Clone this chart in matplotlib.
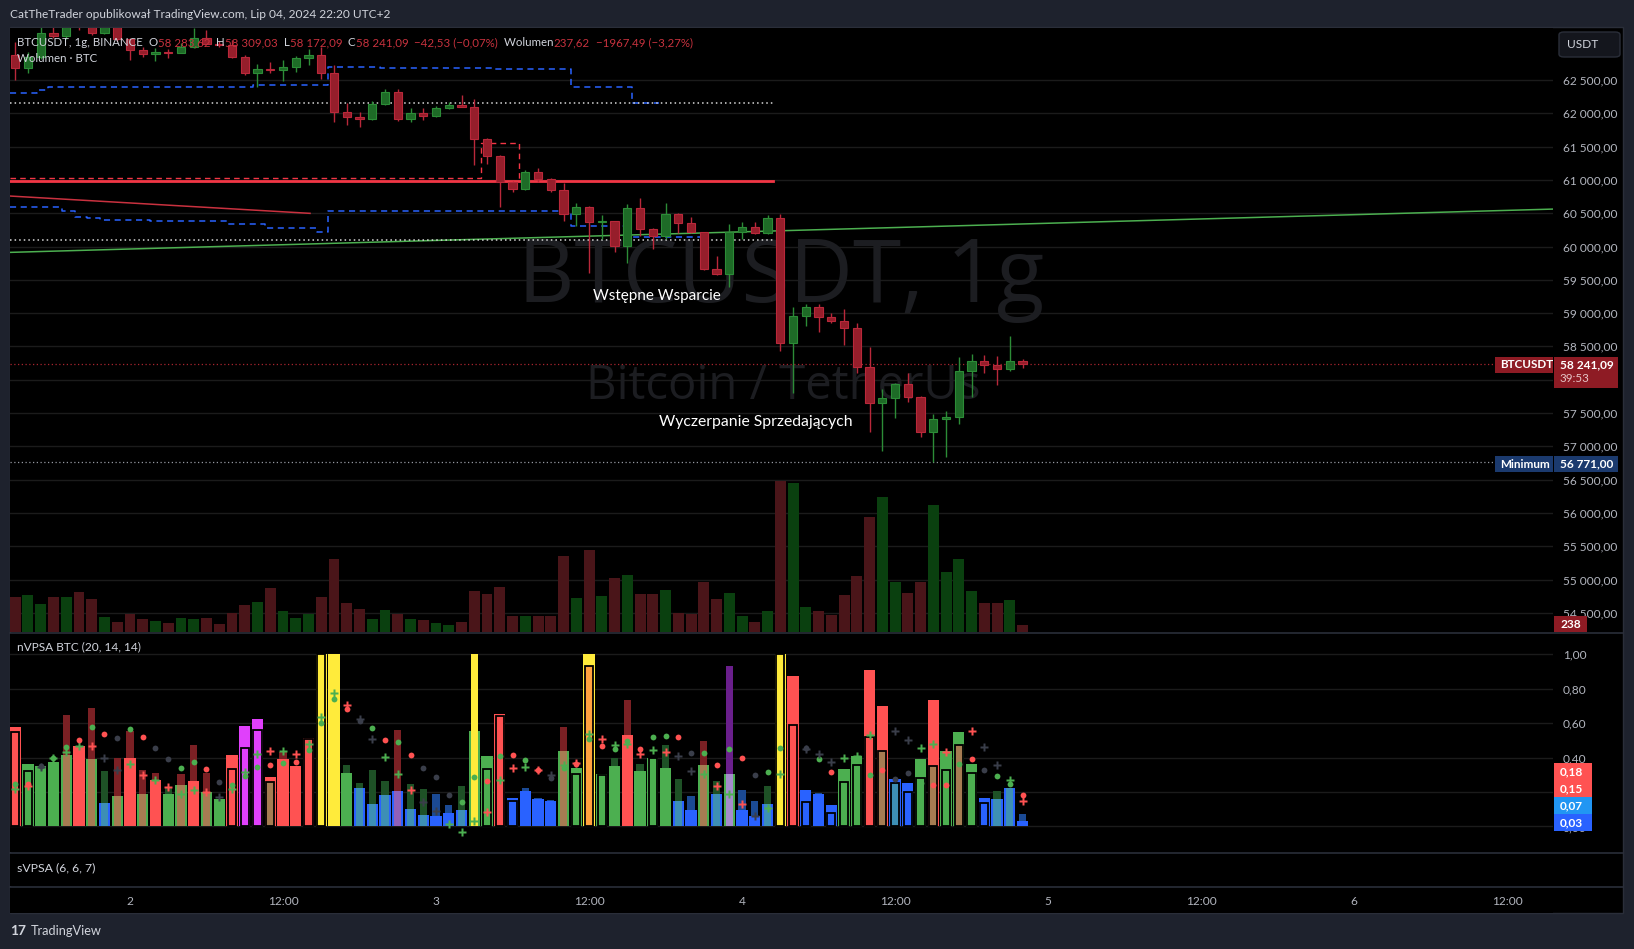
import numpy as np
import matplotlib
matplotlib.use("Agg")
import matplotlib.pyplot as plt
from matplotlib.patches import Rectangle, FancyBboxPatch
from matplotlib.lines import Line2D

W, H = 1634, 949
FONT = ['Lato', 'DejaVu Sans']
plt.rcParams['font.family'] = FONT

# ------------------------------------------------------------------ data
# candle start, hours relative to 2 Jul 2024 00:00 (UTC+2)
hours = list(range(-9, 71))
opens = [62875, 62676, 62850, 63200, 63160, 63350, 63325, 63210, 63375, 63110,
         62950, 62886, 62921, 62910, 62991, 63126, 63041, 63021, 62850, 62610,
         62660, 62650, 62700, 62826, 62875, 62610, 62024, 61940, 61910, 62135,
         62320, 61919, 62000, 61955, 62080, 62125, 62090, 61609, 61358, 60973,
         60863, 61118, 61013, 60848, 60487, 60592, 60367, 60390, 60007, 60577,
         60262, 60157, 60487, 60352, 60217, 59661, 59586, 60217, 60292, 60202,
         60427, 58550, 58955, 59090, 58940, 58880, 58775, 58190, 57649, 57724,
         57934, 57739, 57213, 57408, 57438, 58129, 58280, 58220, 58160, 58283.62]
highs = [63075, 62925, 63350, 63400, 63420, 63450, 63380, 63430, 63420, 63130,
         63000, 62976, 62961, 63051, 63276, 63251, 63080, 63101, 62875, 62740,
         62775, 62800, 62860, 62961, 62991, 62725, 62150, 62024, 62180, 62360,
         62360, 62075, 62075, 62110, 62175, 62275, 62215, 61624, 61370, 60990,
         61150, 61178, 61030, 60953, 60653, 60607, 60472, 60390, 60638, 60728,
         60280, 60653, 60502, 60442, 60217, 59857, 60337, 60367, 60367, 60472,
         60487, 59090, 59135, 59135, 59000, 59060, 58850, 58490, 57859, 57950,
         58099, 57760, 57483, 57528, 58340, 58385, 58370, 58355, 58655, 58309.03]
lows = [62500, 62610, 62820, 63126, 63110, 63250, 63180, 63190, 63080, 62800,
        62840, 62790, 62826, 62901, 62985, 63035, 62990, 62825, 62575, 62400,
        62610, 62490, 62625, 62725, 62510, 61874, 61824, 61799, 61900, 62120,
        61884, 61874, 61900, 61940, 62060, 62090, 61223, 61238, 60597, 60820,
        60850, 60968, 60818, 60382, 60307, 59601, 60112, 59917, 59751, 60157,
        59962, 60112, 60202, 60200, 59640, 59570, 59391, 60112, 60190, 60190,
        58430, 57799, 58805, 58715, 58850, 58520, 58100, 57213, 56928, 57423,
        57664, 57138, 56771, 56838, 57333, 57739, 58099, 57919, 58130, 58172.09]
closes = [62676, 62850, 63200, 63160, 63350, 63325, 63210, 63375, 63110, 62950,
          62886, 62921, 62910, 62991, 63126, 63041, 63021, 62850, 62610, 62660,
          62650, 62700, 62826, 62875, 62610, 62024, 61940, 61910, 62135, 62320,
          61919, 62000, 61955, 62080, 62125, 62090, 61609, 61358, 60973, 60863,
          61118, 61013, 60848, 60487, 60592, 60367, 60390, 60007, 60577, 60262,
          60157, 60487, 60352, 60217, 59661, 59586, 60217, 60292, 60202, 60427,
          58550, 58955, 59090, 58940, 58880, 58775, 58190, 57649, 57724, 57934,
          57739, 57213, 57408, 57438, 58129, 58280, 58220, 58160, 58283.62, 58241.09]
volumes = [1145, 1210, 918, 1145, 1145, 1307, 1080, 497, 335, 594,
           432, 367, 302, 464, 432, 464, 270, 626, 886, 983,
           1436, 691, 464, 594, 1145, 2376, 950, 756, 432, 724,
           594, 432, 400, 302, 238, 335, 1339, 1242, 1469, 529,
           529, 529, 529, 2473, 1112, 2668, 1177, 1760, 1858, 1242,
           1242, 1372, 626, 594, 1631, 1080, 1274, 529, 335, 691,
           4903, 4838, 821, 691, 562, 1210, 1825, 3737, 4385, 1631,
           1274, 1631, 4126, 1955, 2376, 1339, 950, 950, 1048, 237.62]

price_ticks = list(range(54500, 63000, 500))
time_ticks = [0, 12, 24, 36, 48, 60, 72, 84, 96, 108]
time_labels = ['2', '12:00', '3', '12:00', '4', '12:00', '5', '12:00', '6', '12:00']

# overlay lines (hours, price)
upper_band_x = [-9.41, -7.32, -6.41, 9.67, 15.55, 19.61, 28.47, 34.59, 39.37, 41.46]
upper_band_y = [62300, 62345, 62399, 62425, 62700, 62676, 62661, 62402, 62155, 62155]
lower_band_x = [-9.41, -5.36, -4.31, -3.40, -2.35, 1.57, 7.58, 10.59, 14.64, 15.55, 34.56, 39.22, 45.21]
lower_band_y = [60588, 60537, 60447, 60423, 60397, 60382, 60337, 60273, 60212, 60537, 60307, 60137, 60137]
dotted_levels = [62155, 60097]
dotted_end = 50.43
red_level = 60978
red_dash_x = [-9.41, 27.5, 27.5, 30.5, 30.5]
red_dash_y = [61024, 61024, 61549, 61549, 60990]
red_trend_x = [-9.41, 14.12]
red_trend_y = [60758, 60498]
green_trend_x = [-9.41, 111.6]
green_trend_y = [59912, 60562]

notes = [("Wstępne Wsparcie", 41.33, 59256), ("Wyczerpanie Sprzedających", 49.1, 57363)]

# nVPSA indicator
wide_v = [0.578, 0.365, 0.350, 0.373, 0.417, 0.469, 0.394, 0.139, 0.174, 0.400,
          0.186, 0.272, 0.191, 0.243, 0.266, 0.201, 0.157, 0.417, 0.580, 0.626,
          0.286, 0.394, 0.350, 0.512, 1.000, 1.000, 0.313, 0.226, 0.128, 0.180,
          0.203, 0.099, 0.064, 0.060, 0.077, 0.093, 0.551, 0.406, 0.655, 0.168,
          0.203, 0.162, 0.150, 0.440, 0.342, 1.000, 0.307, 0.348, 0.533, 0.319,
          0.400, 0.342, 0.145, 0.093, 0.354, 0.191, 0.302, 0.093, 0.058, 0.133,
          1.000, 0.870, 0.209, 0.186, 0.122, 0.336, 0.411, 0.910, 0.701, 0.278,
          0.250, 0.394, 0.736, 0.440, 0.545, 0.360, 0.168, 0.162, 0.226, 0.030]
wide_c = ("RGGGGRGBGR" "GRGGRGGRMM" "RRRRYYGBBB" "BBBBBBGGRB" "BBBGGYGGRG"
          "GGBBGBGBBB" "YRBBBGGRRB" "BGRGGGBBBB")
nar_v = [0, 0, 0, 0, 0.649, 0, 0.689, 0.319, 0.400, 0.556,
         0.325, 0.311, 0.230, 0.307, 0.470, 0.311, 0, 0, 0, 0,
         0, 0.430, 0, 0, 0, 0, 0.354, 0.253, 0.325, 0.261,
         0.562, 0.244, 0.220, 0.186, 0.122, 0.232, 1.000, 0, 0, 0,
         0.226, 0.166, 0.156, 0.574, 0, 0, 0, 0.400, 0.736, 0.365,
         0, 0.475, 0.273, 0.174, 0.498, 0.261, 0.933, 0.209, 0.145, 0.232,
         0, 0, 0, 0.197, 0, 0, 0, 0, 0, 0,
         0, 0, 0, 0, 0, 0, 0, 0.203, 0.226, 0.070]
nar_c = ("----r-rgrr" "rrgrrr----" "-r----gggg" "rggbbgY---" "bbbr---grg"
         "-ggbrgpbbg" "---b------" "-------ggb")
out_v = [0.549, 0.323, 0, 0, 0, 0, 0, 0, 0, 0,
         0, 0, 0, 0, 0, 0, 0, 0.336, 0.456, 0.557,
         0.259, 0, 0, 0.508, 1.000, 0, 0, 0, 0, 0,
         0, 0, 0, 0, 0, 0, 0, 0.331, 0.640, 0.149,
         0, 0, 0, 0, 0.307, 0.933, 0.300, 0, 0, 0,
         0.395, 0, 0, 0, 0, 0, 0, 0, 0, 0,
         1.000, 0.589, 0.143, 0, 0.079, 0.259, 0.357, 0.520, 0.439, 0.253,
         0.201, 0.284, 0.348, 0.329, 0.473, 0.313, 0.137, 0, 0, 0]
out_c = ("RG--------" "-------RMM" "N--RY-----" "-------GRB" "----GOG---"
         "G---------" "YRB-BGGRNT" "BGNGNGB---")
dot_v = [0.249, 0.249, 0.352, 0.398, 0.462, 0.504, 0.578, 0.537, 0.514, 0.566,
         0.520, 0.458, 0.394, 0.340, 0.375, 0.334, 0.259, 0.240, 0.292, 0.346,
         0.358, 0.369, 0.373, 0.446, 0.601, 0.740, 0.682, 0.611, 0.572, 0.504,
         0.491, 0.412, 0.340, 0.288, 0.184, 0.143, 0.288, 0.265, 0.406, 0.415,
         0.388, 0.330, 0.282, 0.342, 0.363, 0.508, 0.467, 0.450, 0.498, 0.452,
         0.520, 0.527, 0.520, 0.427, 0.427, 0.358, 0.450, 0.398, 0.300, 0.317,
         0.456, 0, 0.456, 0.394, 0.317, 0, 0, 0.300, 0.330, 0.277,
         0.311, 0.253, 0.238, 0.238, 0.360, 0.394, 0.329, 0.290, 0.249, 0.180]
dot_c = ("GRKGGRGRKG" "RKKGGRKGGG" "RGRGGGRKGR" "GRKKKGGRGR" "GRKGRGRGGR"
         "GGRKGRGRKG" "G-KGR--GRK" "KGRRGRKGGR")
plus_v = [0.220, 0.234, 0.344, 0.398, 0.431, 0.466, 0.466, 0.398, 0.327, 0.361,
          0.301, 0.269, 0.228, 0.191, 0.211, 0.199, 0.171, 0.215, 0.315, 0.421,
          0.435, 0.435, 0.423, 0.481, 0.634, 0.775, 0.703, 0.621, 0.508, 0.402,
          0.303, 0.211, 0.141, 0.087, 0.017, -0.033, 0.031, 0.085, 0.269, 0.338,
          0.344, 0.325, 0.297, 0.354, 0.369, 0.537, 0.506, 0.473, 0.478, 0.418,
          0.441, 0.431, 0.408, 0.321, 0.305, 0.234, 0.191, 0.130, 0.060, 0.106,
          0.303, 0, 0.450, 0.418, 0.373, 0.398, 0.411, 0.528, 0, 0.553,
          0.501, 0.454, 0.481, 0.431, 0, 0.553, 0.460, 0.359, 0.269, 0.150]
plus_c = ("GRKGGGRKKG" "RGRGGRKGGG" "RGRGGGRKKG" "GRKKGGGRGR" "GRKGRGRGGR"
          "GRKKGRGRKG" "G-KKKGGG-K" "KGGR-RKKGR")
nv_ticks = [0.0, 0.2, 0.4, 0.6, 0.8, 1.0]
nv_last = [("0,18", '#ff5252'), ("0,15", '#ff5252'), ("0,07", '#2196f3'), ("0,03", '#2962ff')]

# ------------------------------------------------------------------ style
WHITE = '#d1d4dc'
AX_TXT = '#b2b5be'
GRID = '#1b1b1b'
SEP = '#2a2e39'
LEG_RED = '#c8323e'
C_UP_BODY, C_UP_EDGE = '#1e6b27', '#2c8c37'
C_DN_BODY, C_DN_EDGE = '#961e2b', '#b9283a'
V_UP, V_DN = '#0a400f', '#4a1519'
COL = {'R': '#ff5252', 'G': '#4caf50', 'B': '#2962ff', 'Y': '#ffeb3b', 'M': '#e040fb',
       'O': '#ffa23e', 'N': '#a67c52', 'T': '#3d8fb5',
       'r': '#7b2024', 'g': '#1e5126', 'b': '#1b4a94', 'p': '#6a1f8c'}
MIX = {('r', 'G'): '#a67c52', ('r', 'R'): '#ff5252', ('r', 'B'): '#9060b8',
       ('g', 'B'): '#3d8fb5', ('g', 'G'): '#4caf50', ('b', 'B'): '#2962ff',
       ('p', 'G'): '#a58ccc', ('Y', 'G'): '#ffeb3b'}
MK = {'G': '#4caf50', 'R': '#ff5252', 'K': '#3a3e4a'}


def fmt(v):
    return f"{v:,.2f}".replace(',', ' ').replace('.', ',')


def fr(x0, y0, x1, y1):
    return [x0 / W, 1 - y1 / H, (x1 - x0) / W, (y1 - y0) / H]


def fp(x, y):
    return (x / W, 1 - y / H)


XL = (-9.41, 111.6)
PL = (54212, 63281)
NL = (-0.148, 1.122)

fig = plt.figure(figsize=(W / 100, H / 100), dpi=100)
fig.patch.set_facecolor('#1e222d')
fig.add_artist(Rectangle(fp(10, 913), 1613 / W, 886 / H, transform=fig.transFigure,
                         facecolor='black', edgecolor=SEP, lw=1, zorder=-10))

t = np.array(hours, dtype=float)
o = np.array(opens); hi = np.array(highs); lo = np.array(lows); c = np.array(closes)
up = c >= o

# ---------------- main pane: grid layer
MAIN = fr(10, 28, 1553, 632)
axg = fig.add_axes(MAIN)
axg.set_facecolor('black')
axg.set_xlim(*XL); axg.set_ylim(*PL)
axg.set_xticks(time_ticks)
axg.set_yticks(price_ticks)
axg.set_yticklabels([fmt(p) for p in price_ticks])
axg.yaxis.tick_right()
axg.tick_params(axis='y', length=0, pad=7, labelsize=8.6, labelcolor=AX_TXT)
axg.tick_params(axis='x', length=0, labelbottom=False)
axg.grid(True, color=GRID, lw=1)
for s in axg.spines.values():
    s.set_visible(False)
# watermark
axg.text(781 / W, 1 - 279 / H, "BTCUSDT, 1g", transform=fig.transFigure, ha='center', va='center',
         fontsize=63, color='#1c1d21', family=['Open Sans', 'DejaVu Sans'])
axg.text(783 / W, 1 - 386 / H, "Bitcoin / TetherUs", transform=fig.transFigure, ha='center', va='center',
         fontsize=34, color='#1c1d21', family=['Open Sans', 'DejaVu Sans'])

# ---------------- volume layer
axv = fig.add_axes(MAIN, sharex=axg)
axv.patch.set_alpha(0)
axv.bar(t, volumes, width=0.86, color=np.where(up, V_UP, V_DN), zorder=2)
axv.set_ylim(0, 19612)
axv.axis('off')

# ---------------- candle layer
ax = fig.add_axes(MAIN, sharex=axg)
ax.patch.set_alpha(0)
ax.set_xlim(*XL); ax.set_ylim(*PL)
ax.axis('off')

ax.plot(green_trend_x, green_trend_y, color='#4caf50', lw=1.1, zorder=1)
ax.plot(red_trend_x, red_trend_y, color='#c9313f', lw=1.1, zorder=1)
ax.step(upper_band_x, upper_band_y, where='post', color='#2962ff', lw=1.1, ls=(0, (4, 3)), zorder=1)
ax.step(lower_band_x, lower_band_y, where='post', color='#2962ff', lw=1.1, ls=(0, (4, 3)), zorder=1)
for lv in dotted_levels:
    ax.plot([XL[0], dotted_end], [lv, lv], color='#d8d8d8', lw=1.1, ls=(0, (1, 2)), zorder=1)
ax.plot([XL[0], dotted_end], [red_level, red_level], color='#f23645', lw=2.0, zorder=1)
ax.plot(red_dash_x, red_dash_y, color='#f23645', lw=1.0, ls=(0, (4, 3)), zorder=1)
ax.axhline(closes[-1], color='#a8252f', lw=0.9, ls=(0, (1, 2)), zorder=1)
ax.axhline(min(lows), color='#9598a1', lw=0.9, ls=(0, (1, 2)), zorder=1)

ax.vlines(t, lo, hi, colors=np.where(up, C_UP_EDGE, C_DN_EDGE), lw=1.0, zorder=2)
ax.bar(t, np.maximum(np.abs(c - o), 15), bottom=np.minimum(o, c), width=0.64,
       color=np.where(up, C_UP_BODY, C_DN_BODY), edgecolor=np.where(up, C_UP_EDGE, C_DN_EDGE),
       lw=0.8, zorder=3)

for (txt, xh, pr), fs in zip(notes, (11, 11.3)):
    ax.text(xh, pr, txt, color='white', fontsize=fs, ha='center', va='center', zorder=6)

# legend
LEG_FS = 8.3
parts = [("BTCUSDT, 1g, BINANCE", WHITE), ("  O", WHITE), (fmt(opens[-1]), LEG_RED),
         ("  H", WHITE), (fmt(highs[-1]), LEG_RED), ("  L", WHITE), (fmt(lows[-1]), LEG_RED),
         ("  C", WHITE), (fmt(closes[-1]), LEG_RED),
         ("  " + fmt(closes[-1] - closes[-2]).replace('-', '−') + " (−0,07%)", LEG_RED),
         ("  Wolumen", WHITE), (fmt(volumes[-1]), LEG_RED), ("  −1967,49 (−3,27%)", LEG_RED)]
prev = fig.text(17 / W, 1 - 48 / H, parts[0][0], color=parts[0][1], fontsize=LEG_FS, ha='left', va='bottom')
for s, col in parts[1:]:
    prev = ax.annotate(s, xy=(1, 0), xycoords=prev, ha='left', va='bottom', color=col,
                       fontsize=LEG_FS, annotation_clip=False, zorder=7)
fig.text(17 / W, 1 - 59 / H, "Wolumen · BTC", color=WHITE, fontsize=LEG_FS, ha='left', va='center')

# ---------------- nVPSA pane
axn = fig.add_axes(fr(10, 633, 1553, 852), sharex=axg)
axn.set_facecolor('black')
axn.set_ylim(*NL)
axn.set_yticks(nv_ticks)
axn.set_yticklabels([f"{v:.2f}".replace('.', ',') for v in nv_ticks])
axn.yaxis.tick_right()
axn.tick_params(axis='y', length=0, pad=7, labelsize=8.6, labelcolor=AX_TXT)
axn.tick_params(axis='x', length=0, labelbottom=False)
axn.grid(True, color=GRID, lw=1)
axn.set_axisbelow(True)
for s in axn.spines.values():
    s.set_visible(False)

axn.bar(t, wide_v, width=0.88, color=[COL[k] for k in wide_c], zorder=2)
for i in range(len(t)):
    if nar_c[i] != '-':
        axn.bar(t[i], nar_v[i], width=0.56, color=COL[nar_c[i]], zorder=3)
        axn.bar(t[i], min(nar_v[i], wide_v[i]), width=0.56,
                color=MIX.get((nar_c[i], wide_c[i]), COL[wide_c[i]]), zorder=3.1)
    if out_c[i] != '-':
        axn.bar(t[i], out_v[i], width=0.64, color=COL[out_c[i]], edgecolor='black', lw=1.3, zorder=4)
dv = np.array(dot_v); pv = np.array(plus_v)
for code, col in MK.items():
    idx = [i for i in range(len(t)) if dot_c[i] == code]
    axn.plot(t[idx], dv[idx], 'o', ms=4.2, color=col, mec='none', zorder=5)
    idx = [i for i in range(len(t)) if plus_c[i] == code]
    axn.plot(t[idx], pv[idx], 'P', ms=5.2, color=col, mec='none', zorder=5)
fig.text(17 / W, 1 - 647 / H, "nVPSA BTC (20, 14, 14)", color=WHITE, fontsize=8.6, ha='left', va='center')

# ---------------- sVPSA pane
axs = fig.add_axes(fr(10, 853, 1553, 886), sharex=axg)
axs.set_facecolor('black')
axs.set_yticks([])
axs.tick_params(axis='x', length=0, labelbottom=False)
axs.grid(True, axis='x', color=GRID, lw=1)
for s in axs.spines.values():
    s.set_visible(False)
fig.text(17 / W, 1 - 868 / H, "sVPSA (6, 6, 7)", color=WHITE, fontsize=8.8, ha='left', va='center')

# ---------------- time axis
axt = fig.add_axes(fr(10, 887, 1553, 913), sharex=axg)
axt.set_facecolor('black')
axt.set_xticks([]); axt.set_yticks([])
for s in axt.spines.values():
    s.set_visible(False)
for xt, lb in zip(time_ticks, time_labels):
    axt.text(xt, 0.45, lb, transform=axt.get_xaxis_transform(), ha='center', va='center',
             color=AX_TXT, fontsize=8.6)

# separators
for yy in (632.5, 852.5, 886.5):
    fig.add_artist(Line2D([10 / W, 1623 / W], [1 - yy / H] * 2, transform=fig.transFigure,
                          color=SEP, lw=1.2, zorder=10))

# header / footer
fig.text(10 / W, 1 - 14 / H, "CatTheTrader opublikował TradingView.com, Lip 04, 2024 22:20 UTC+2",
         color=WHITE, fontsize=8.6, ha='left', va='center')
fig.text(10 / W, 1 - 931 / H, "17", color=WHITE, fontsize=10, weight='bold', ha='left', va='center')
fig.text(31 / W, 1 - 931 / H, "TradingView", color=WHITE, fontsize=9.2, ha='left', va='center')


def box(x0, y0, x1, y1, fc):
    fig.add_artist(Rectangle(fp(x0, y1), (x1 - x0) / W, (y1 - y0) / H, transform=fig.transFigure,
                             facecolor=fc, edgecolor='none', zorder=11))


def btxt(x, y, s, col='white', size=8.6, weight='bold'):
    fig.text(x / W, 1 - y / H, s, color=col, fontsize=size, weight=weight, ha='left', va='center', zorder=12)


# USDT button
fig.add_artist(FancyBboxPatch(fp(1559, 57), 61 / W, 25 / H, boxstyle='round,pad=0,rounding_size=0.003',
                              transform=fig.transFigure, facecolor='#14161d', edgecolor=SEP, lw=1, zorder=11))
btxt(1567, 44, "USDT", WHITE, 8.6, 'normal')

# price labels
box(1495, 357, 1553, 373, '#8e1b24'); btxt(1500, 365, "BTCUSDT", size=8.4)
box(1554, 357, 1618, 388, '#8e1b24'); btxt(1560, 365, fmt(closes[-1])); btxt(1560, 379, "39:53", '#e6c4c6', 8.4, 'normal')
box(1495, 456, 1553, 472, '#1b3a6e'); btxt(1500, 464, "Minimum", size=8.4)
box(1554, 456, 1618, 472, '#1b3a6e'); btxt(1560, 464, fmt(min(lows)))
box(1554, 616, 1587, 632, '#8e1b24'); btxt(1560, 624, f"{volumes[-1]:.0f}")

# nVPSA last value labels
for k, (s, col) in enumerate(nv_last):
    y0 = 763 + k * 17
    box(1554, y0, 1592, y0 + 17, col)
    btxt(1560, y0 + 8.5, s)

fig.savefig("out.png", dpi=100, facecolor=fig.get_facecolor())
